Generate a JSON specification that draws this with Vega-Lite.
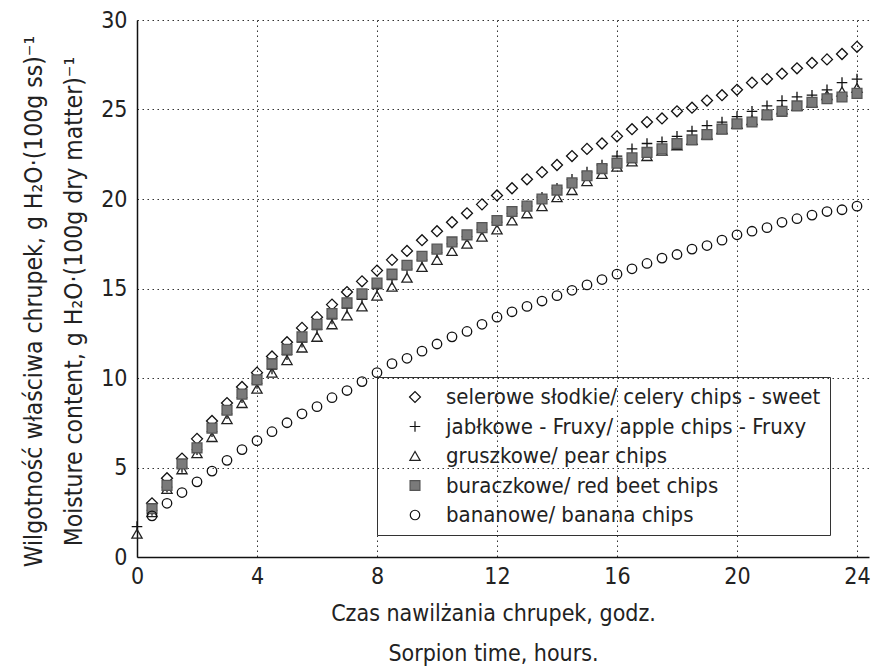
{
  "$schema": "https://vega.github.io/schema/vega-lite/v6.json",
  "width": 732,
  "height": 537,
  "autosize": {"type": "none"},
  "padding": {"left": 137, "top": 20, "right": 6, "bottom": 111},
  "background": "white",
  "config": {
    "font": "DejaVu Sans Condensed, Liberation Sans, sans-serif",
    "view": {"stroke": null},
    "axis": {
      "labelFont": "DejaVu Sans Condensed, Liberation Sans, sans-serif",
      "titleFont": "DejaVu Sans Condensed, Liberation Sans, sans-serif",
      "labelColor": "#222",
      "titleColor": "#222",
      "titleFontWeight": "normal",
      "domainColor": "#111",
      "domainWidth": 1.5,
      "grid": true,
      "gridColor": "#333",
      "gridWidth": 1,
      "gridDash": [1.5, 3.5],
      "ticks": false,
      "labelFlush": false
    },
    "legend": {
      "labelFont": "DejaVu Sans Condensed, Liberation Sans, sans-serif"
    }
  },
  "datasets": {
    "pts": [
      {"t": 0.5, "s": "celery", "v": 3.0}, {"t": 1, "s": "celery", "v": 4.4}, {"t": 1.5, "s": "celery", "v": 5.5}, {"t": 2, "s": "celery", "v": 6.6},
      {"t": 2.5, "s": "celery", "v": 7.6}, {"t": 3, "s": "celery", "v": 8.6}, {"t": 3.5, "s": "celery", "v": 9.5}, {"t": 4, "s": "celery", "v": 10.3},
      {"t": 4.5, "s": "celery", "v": 11.2}, {"t": 5, "s": "celery", "v": 12.0}, {"t": 5.5, "s": "celery", "v": 12.8}, {"t": 6, "s": "celery", "v": 13.4},
      {"t": 6.5, "s": "celery", "v": 14.1}, {"t": 7, "s": "celery", "v": 14.8}, {"t": 7.5, "s": "celery", "v": 15.4}, {"t": 8, "s": "celery", "v": 16.0},
      {"t": 8.5, "s": "celery", "v": 16.6}, {"t": 9, "s": "celery", "v": 17.1}, {"t": 9.5, "s": "celery", "v": 17.7}, {"t": 10, "s": "celery", "v": 18.2},
      {"t": 10.5, "s": "celery", "v": 18.7}, {"t": 11, "s": "celery", "v": 19.2}, {"t": 11.5, "s": "celery", "v": 19.7}, {"t": 12, "s": "celery", "v": 20.2},
      {"t": 12.5, "s": "celery", "v": 20.6}, {"t": 13, "s": "celery", "v": 21.1}, {"t": 13.5, "s": "celery", "v": 21.5}, {"t": 14, "s": "celery", "v": 21.9},
      {"t": 14.5, "s": "celery", "v": 22.4}, {"t": 15, "s": "celery", "v": 22.8}, {"t": 15.5, "s": "celery", "v": 23.1}, {"t": 16, "s": "celery", "v": 23.5},
      {"t": 16.5, "s": "celery", "v": 23.9}, {"t": 17, "s": "celery", "v": 24.3}, {"t": 17.5, "s": "celery", "v": 24.5}, {"t": 18, "s": "celery", "v": 24.9},
      {"t": 18.5, "s": "celery", "v": 25.1}, {"t": 19, "s": "celery", "v": 25.5}, {"t": 19.5, "s": "celery", "v": 25.8}, {"t": 20, "s": "celery", "v": 26.1},
      {"t": 20.5, "s": "celery", "v": 26.5}, {"t": 21, "s": "celery", "v": 26.7}, {"t": 21.5, "s": "celery", "v": 27.0}, {"t": 22, "s": "celery", "v": 27.3},
      {"t": 22.5, "s": "celery", "v": 27.6}, {"t": 23, "s": "celery", "v": 27.8}, {"t": 23.5, "s": "celery", "v": 28.1}, {"t": 24, "s": "celery", "v": 28.5},

      {"t": 0, "s": "apple", "v": 1.7},
      {"t": 0.5, "s": "apple", "v": 2.6}, {"t": 1, "s": "apple", "v": 3.9}, {"t": 1.5, "s": "apple", "v": 5.0}, {"t": 2, "s": "apple", "v": 6.0},
      {"t": 2.5, "s": "apple", "v": 7.0}, {"t": 3, "s": "apple", "v": 8.0}, {"t": 3.5, "s": "apple", "v": 8.9}, {"t": 4, "s": "apple", "v": 9.7},
      {"t": 4.5, "s": "apple", "v": 10.5}, {"t": 5, "s": "apple", "v": 11.3}, {"t": 5.5, "s": "apple", "v": 12.0}, {"t": 6, "s": "apple", "v": 12.7},
      {"t": 6.5, "s": "apple", "v": 13.3}, {"t": 7, "s": "apple", "v": 13.9}, {"t": 7.5, "s": "apple", "v": 14.4}, {"t": 8, "s": "apple", "v": 15.0},
      {"t": 8.5, "s": "apple", "v": 15.5}, {"t": 9, "s": "apple", "v": 16.1}, {"t": 9.5, "s": "apple", "v": 16.6}, {"t": 10, "s": "apple", "v": 17.0},
      {"t": 10.5, "s": "apple", "v": 17.5}, {"t": 11, "s": "apple", "v": 17.9}, {"t": 11.5, "s": "apple", "v": 18.3}, {"t": 12, "s": "apple", "v": 18.7},
      {"t": 12.5, "s": "apple", "v": 19.2}, {"t": 13, "s": "apple", "v": 19.6}, {"t": 13.5, "s": "apple", "v": 20.1}, {"t": 14, "s": "apple", "v": 20.6},
      {"t": 14.5, "s": "apple", "v": 21.1}, {"t": 15, "s": "apple", "v": 21.5}, {"t": 15.5, "s": "apple", "v": 21.9}, {"t": 16, "s": "apple", "v": 22.4},
      {"t": 16.5, "s": "apple", "v": 22.8}, {"t": 17, "s": "apple", "v": 23.1}, {"t": 17.5, "s": "apple", "v": 23.2}, {"t": 18, "s": "apple", "v": 23.5},
      {"t": 18.5, "s": "apple", "v": 23.8}, {"t": 19, "s": "apple", "v": 24.1}, {"t": 19.5, "s": "apple", "v": 24.3}, {"t": 20, "s": "apple", "v": 24.6},
      {"t": 20.5, "s": "apple", "v": 24.9}, {"t": 21, "s": "apple", "v": 25.2}, {"t": 21.5, "s": "apple", "v": 25.5}, {"t": 22, "s": "apple", "v": 25.7},
      {"t": 22.5, "s": "apple", "v": 25.8}, {"t": 23, "s": "apple", "v": 26.1}, {"t": 23.5, "s": "apple", "v": 26.5}, {"t": 24, "s": "apple", "v": 26.7},

      {"t": 0, "s": "pear", "v": 1.3},
      {"t": 0.5, "s": "pear", "v": 2.5}, {"t": 1, "s": "pear", "v": 3.8}, {"t": 1.5, "s": "pear", "v": 4.9}, {"t": 2, "s": "pear", "v": 5.8},
      {"t": 2.5, "s": "pear", "v": 6.7}, {"t": 3, "s": "pear", "v": 7.7}, {"t": 3.5, "s": "pear", "v": 8.6}, {"t": 4, "s": "pear", "v": 9.4},
      {"t": 4.5, "s": "pear", "v": 10.3}, {"t": 5, "s": "pear", "v": 11.0}, {"t": 5.5, "s": "pear", "v": 11.7}, {"t": 6, "s": "pear", "v": 12.3},
      {"t": 6.5, "s": "pear", "v": 13.0}, {"t": 7, "s": "pear", "v": 13.5}, {"t": 7.5, "s": "pear", "v": 14.0}, {"t": 8, "s": "pear", "v": 14.6},
      {"t": 8.5, "s": "pear", "v": 15.1}, {"t": 9, "s": "pear", "v": 15.6}, {"t": 9.5, "s": "pear", "v": 16.2}, {"t": 10, "s": "pear", "v": 16.6},
      {"t": 10.5, "s": "pear", "v": 17.1}, {"t": 11, "s": "pear", "v": 17.5}, {"t": 11.5, "s": "pear", "v": 17.9}, {"t": 12, "s": "pear", "v": 18.3},
      {"t": 12.5, "s": "pear", "v": 18.8}, {"t": 13, "s": "pear", "v": 19.2}, {"t": 13.5, "s": "pear", "v": 19.6}, {"t": 14, "s": "pear", "v": 20.1},
      {"t": 14.5, "s": "pear", "v": 20.5}, {"t": 15, "s": "pear", "v": 21.0}, {"t": 15.5, "s": "pear", "v": 21.4}, {"t": 16, "s": "pear", "v": 21.8},
      {"t": 16.5, "s": "pear", "v": 22.1}, {"t": 17, "s": "pear", "v": 22.4}, {"t": 17.5, "s": "pear", "v": 22.7}, {"t": 18, "s": "pear", "v": 23.0},
      {"t": 18.5, "s": "pear", "v": 23.3}, {"t": 19, "s": "pear", "v": 23.6}, {"t": 19.5, "s": "pear", "v": 23.9}, {"t": 20, "s": "pear", "v": 24.2},
      {"t": 20.5, "s": "pear", "v": 24.4}, {"t": 21, "s": "pear", "v": 24.7}, {"t": 21.5, "s": "pear", "v": 25.0}, {"t": 22, "s": "pear", "v": 25.2},
      {"t": 22.5, "s": "pear", "v": 25.4}, {"t": 23, "s": "pear", "v": 25.8}, {"t": 23.5, "s": "pear", "v": 26.0}, {"t": 24, "s": "pear", "v": 26.2},

      {"t": 0.5, "s": "beet", "v": 2.7}, {"t": 1, "s": "beet", "v": 4.0}, {"t": 1.5, "s": "beet", "v": 5.2}, {"t": 2, "s": "beet", "v": 6.1},
      {"t": 2.5, "s": "beet", "v": 7.2}, {"t": 3, "s": "beet", "v": 8.2}, {"t": 3.5, "s": "beet", "v": 9.1}, {"t": 4, "s": "beet", "v": 9.9},
      {"t": 4.5, "s": "beet", "v": 10.8}, {"t": 5, "s": "beet", "v": 11.6}, {"t": 5.5, "s": "beet", "v": 12.3}, {"t": 6, "s": "beet", "v": 13.0},
      {"t": 6.5, "s": "beet", "v": 13.6}, {"t": 7, "s": "beet", "v": 14.2}, {"t": 7.5, "s": "beet", "v": 14.7}, {"t": 8, "s": "beet", "v": 15.3},
      {"t": 8.5, "s": "beet", "v": 15.8}, {"t": 9, "s": "beet", "v": 16.3}, {"t": 9.5, "s": "beet", "v": 16.8}, {"t": 10, "s": "beet", "v": 17.2},
      {"t": 10.5, "s": "beet", "v": 17.6}, {"t": 11, "s": "beet", "v": 18.0}, {"t": 11.5, "s": "beet", "v": 18.4}, {"t": 12, "s": "beet", "v": 18.8},
      {"t": 12.5, "s": "beet", "v": 19.3}, {"t": 13, "s": "beet", "v": 19.6}, {"t": 13.5, "s": "beet", "v": 20.0}, {"t": 14, "s": "beet", "v": 20.5},
      {"t": 14.5, "s": "beet", "v": 20.9}, {"t": 15, "s": "beet", "v": 21.3}, {"t": 15.5, "s": "beet", "v": 21.7}, {"t": 16, "s": "beet", "v": 22.0},
      {"t": 16.5, "s": "beet", "v": 22.3}, {"t": 17, "s": "beet", "v": 22.6}, {"t": 17.5, "s": "beet", "v": 22.8}, {"t": 18, "s": "beet", "v": 23.1},
      {"t": 18.5, "s": "beet", "v": 23.3}, {"t": 19, "s": "beet", "v": 23.6}, {"t": 19.5, "s": "beet", "v": 23.9}, {"t": 20, "s": "beet", "v": 24.2},
      {"t": 20.5, "s": "beet", "v": 24.3}, {"t": 21, "s": "beet", "v": 24.7}, {"t": 21.5, "s": "beet", "v": 24.9}, {"t": 22, "s": "beet", "v": 25.2},
      {"t": 22.5, "s": "beet", "v": 25.4}, {"t": 23, "s": "beet", "v": 25.6}, {"t": 23.5, "s": "beet", "v": 25.7}, {"t": 24, "s": "beet", "v": 25.9},

      {"t": 0.5, "s": "banana", "v": 2.3}, {"t": 1, "s": "banana", "v": 3.0}, {"t": 1.5, "s": "banana", "v": 3.6}, {"t": 2, "s": "banana", "v": 4.2},
      {"t": 2.5, "s": "banana", "v": 4.8}, {"t": 3, "s": "banana", "v": 5.4}, {"t": 3.5, "s": "banana", "v": 6.0}, {"t": 4, "s": "banana", "v": 6.5},
      {"t": 4.5, "s": "banana", "v": 7.0}, {"t": 5, "s": "banana", "v": 7.5}, {"t": 5.5, "s": "banana", "v": 8.0}, {"t": 6, "s": "banana", "v": 8.4},
      {"t": 6.5, "s": "banana", "v": 8.9}, {"t": 7, "s": "banana", "v": 9.3}, {"t": 7.5, "s": "banana", "v": 9.8}, {"t": 8, "s": "banana", "v": 10.3},
      {"t": 8.5, "s": "banana", "v": 10.8}, {"t": 9, "s": "banana", "v": 11.1}, {"t": 9.5, "s": "banana", "v": 11.5}, {"t": 10, "s": "banana", "v": 11.9},
      {"t": 10.5, "s": "banana", "v": 12.3}, {"t": 11, "s": "banana", "v": 12.6}, {"t": 11.5, "s": "banana", "v": 13.0}, {"t": 12, "s": "banana", "v": 13.4},
      {"t": 12.5, "s": "banana", "v": 13.7}, {"t": 13, "s": "banana", "v": 14.0}, {"t": 13.5, "s": "banana", "v": 14.3}, {"t": 14, "s": "banana", "v": 14.6},
      {"t": 14.5, "s": "banana", "v": 14.9}, {"t": 15, "s": "banana", "v": 15.2}, {"t": 15.5, "s": "banana", "v": 15.5}, {"t": 16, "s": "banana", "v": 15.8},
      {"t": 16.5, "s": "banana", "v": 16.1}, {"t": 17, "s": "banana", "v": 16.4}, {"t": 17.5, "s": "banana", "v": 16.7}, {"t": 18, "s": "banana", "v": 16.9},
      {"t": 18.5, "s": "banana", "v": 17.2}, {"t": 19, "s": "banana", "v": 17.4}, {"t": 19.5, "s": "banana", "v": 17.7}, {"t": 20, "s": "banana", "v": 18.0},
      {"t": 20.5, "s": "banana", "v": 18.2}, {"t": 21, "s": "banana", "v": 18.4}, {"t": 21.5, "s": "banana", "v": 18.7}, {"t": 22, "s": "banana", "v": 18.9},
      {"t": 22.5, "s": "banana", "v": 19.1}, {"t": 23, "s": "banana", "v": 19.3}, {"t": 23.5, "s": "banana", "v": 19.4}, {"t": 24, "s": "banana", "v": 19.6}
    ]
  },
  "layer": [
    {
      "data": {"name": "pts"},
      "mark": {"type": "point", "filled": true, "strokeWidth": 1.3, "opacity": 1},
      "encoding": {
        "x": {
          "field": "t", "type": "quantitative",
          "scale": {"domain": [0, 24.4], "nice": false, "zero": false},
          "axis": {
            "values": [0, 4, 8, 12, 16, 20, 24],
            "grid": true,
            "labelFontSize": 23,
            "labelPadding": 8,
            "title": ["Czas nawilżania chrupek, godz.", "Sorpion time, hours."],
            "titleFontSize": 23,
            "titleLineHeight": 40,
            "titleX": 356,
            "titleY": 45,
            "titleAlign": "center",
            "titleBaseline": "top"
          }
        },
        "y": {
          "field": "v", "type": "quantitative",
          "scale": {"domain": [0, 30], "nice": false},
          "axis": {
            "values": [0, 5, 10, 15, 20, 25, 30],
            "grid": true,
            "labelFontSize": 23,
            "labelPadding": 10,
            "title": ["Wilgotność właściwa chrupek, g H₂O·(100g ss)⁻¹", "Moisture content, g H₂O·(100g dry matter)⁻¹"],
            "titleFontSize": 24.5,
            "titleLineHeight": 40,
            "titleAngle": -90,
            "titleX": -115,
            "titleY": 281,
            "titleAlign": "center",
            "titleBaseline": "top"
          }
        },
        "shape": {
          "field": "s", "type": "nominal",
          "scale": {
            "domain": ["celery", "apple", "pear", "beet", "banana"],
            "range": ["diamond", "M-1,0H1M0,-1V1", "triangle-up", "square", "circle"]
          },
          "legend": {
            "title": null,
            "orient": "none",
            "legendX": 240,
            "legendY": 357,
            "strokeColor": "#333",
            "padding": 9,
            "symbolSize": 42,
            "symbolStrokeWidth": 1.2,
            "labelFontSize": 22,
            "labelColor": "#222",
            "labelOffset": 20,
            "symbolOffset": 18,
            "rowPadding": 7.5,
            "labelLimit": 600,
            "labelExpr": "datum.value == 'celery' ? 'selerowe słodkie/ celery chips - sweet\u00a0\u00a0\u00a0\u00a0\u00a0\u00a0\u00a0\u00a0' : datum.value == 'apple' ? 'jabłkowe - Fruxy/ apple chips - Fruxy' : datum.value == 'pear' ? 'gruszkowe/ pear chips' : datum.value == 'beet' ? 'buraczkowe/ red beet chips' : 'bananowe/ banana chips'"
          }
        },
        "fill": {
          "field": "s", "type": "nominal",
          "scale": {
            "domain": ["celery", "apple", "pear", "beet", "banana"],
            "range": ["transparent", "transparent", "transparent", "#7a7a7a", "transparent"]
          }
        },
        "stroke": {
          "field": "s", "type": "nominal",
          "scale": {
            "domain": ["celery", "apple", "pear", "beet", "banana"],
            "range": ["#111", "#111", "#222", "#555", "#111"]
          }
        },
        "size": {
          "field": "s", "type": "nominal",
          "scale": {
            "domain": ["celery", "apple", "pear", "beet", "banana"],
            "range": [120, 90, 120, 75, 100]
          }
        }
      }
    },
    {
      "mark": {"type": "rule", "color": "#111", "strokeWidth": 1.5},
      "encoding": {"y": {"datum": 30, "type": "quantitative"}}
    }
  ]
}
